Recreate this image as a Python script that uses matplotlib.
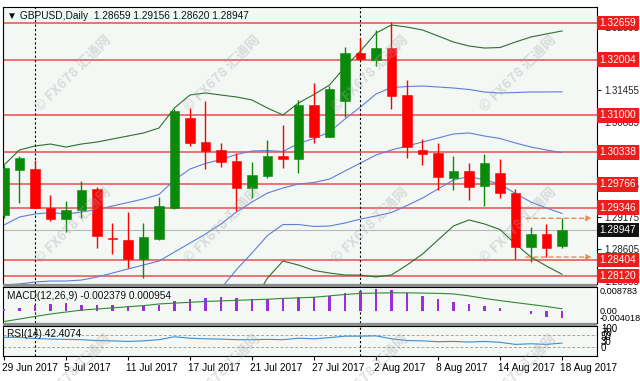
import matplotlib
matplotlib.use("Agg")
import matplotlib.pyplot as plt
import matplotlib.transforms as mtrans
from matplotlib.patches import Rectangle
import numpy as np

plt.rcParams['font.family'] = ['Liberation Sans', 'DejaVu Sans']

# daily GBPUSD candles, 29 Jun .. 18 Aug 2017
opens = [1.29214, 1.30022, 1.30040, 1.29340, 1.29142, 1.29304, 1.29681, 1.28800, 1.28765, 1.28425,
         1.28783, 1.29340, 1.30955, 1.30524, 1.30381, 1.30183, 1.29699, 1.29914, 1.30273, 1.30219,
         1.31188, 1.30614, 1.31260, 1.32121, 1.31995, 1.32210, 1.31367, 1.30381, 1.30327, 1.29878,
         1.30004, 1.29735, 1.29968, 1.29609, 1.28640, 1.28873, 1.28659]
highs = [1.30111, 1.30273, 1.30201, 1.29573, 1.29466, 1.29824, 1.29717, 1.29071, 1.29268, 1.29071,
         1.29537, 1.31116, 1.31134, 1.31260, 1.30506, 1.30327, 1.30165, 1.30560, 1.30829, 1.31278,
         1.31583, 1.31529, 1.32228, 1.32390, 1.32533, 1.32677, 1.31636, 1.30578, 1.30506, 1.30273,
         1.30147, 1.30309, 1.30219, 1.29681, 1.28999, 1.29053, 1.29156]
lows = [1.29160, 1.29430, 1.29340, 1.29107, 1.28909, 1.29160, 1.28622, 1.28515, 1.28264, 1.28084,
        1.28765, 1.29322, 1.30452, 1.30040, 1.30075, 1.29286, 1.29519, 1.29878, 1.30058, 1.29968,
        1.30506, 1.30614, 1.30973, 1.31995, 1.31888, 1.31116, 1.30237, 1.30111, 1.29663, 1.29663,
        1.29483, 1.29376, 1.29519, 1.28425, 1.28371, 1.28461, 1.28620]
closes = [1.30058, 1.30237, 1.29340, 1.29142, 1.29304, 1.29663, 1.28837, 1.28783, 1.28425, 1.28819,
          1.29376, 1.31080, 1.30506, 1.30363, 1.30165, 1.29699, 1.29932, 1.30273, 1.30219, 1.31188,
          1.30614, 1.31475, 1.32121, 1.32013, 1.32210, 1.31349, 1.30434, 1.30309, 1.29896, 1.30004,
          1.29717, 1.30147, 1.29609, 1.28640, 1.28873, 1.28622, 1.28947]

# bollinger middle line and one band step
bb_mid = [1.27959, 1.27977, 1.28013, 1.28030, 1.28030, 1.28048, 1.28102, 1.28174, 1.28246, 1.28318,
          1.28389, 1.28551, 1.28712, 1.28874, 1.29053, 1.29268, 1.29448, 1.29609, 1.29699, 1.29771,
          1.29798, 1.29860, 1.30004, 1.30147, 1.30291, 1.30381, 1.30452, 1.30524, 1.30596, 1.30668,
          1.30686, 1.30632, 1.30587, 1.30506, 1.30434, 1.30381, 1.30334]
bb_sd = [0.01076, 0.01202, 0.01220, 0.01229, 0.01202, 0.01220, 0.01211, 0.01202, 0.01193, 0.01184,
         0.01193, 0.01292, 0.01328, 0.01265, 0.01157, 0.01032, 0.00915, 0.00762, 0.00655, 0.00727,
         0.00789, 0.00843, 0.00933, 0.01005, 0.01094, 0.01121, 0.01067, 0.01005, 0.00915, 0.00825,
         0.00780, 0.00789, 0.00816, 0.00906, 0.00987, 0.01041, 0.01091]

macd_main = [0.0010, 0.0014, 0.0023, 0.0028, 0.0030, 0.0024, 0.0024, 0.0024, 0.0020, 0.0018,
             0.0024, 0.0036, 0.0044, 0.0048, 0.0051, 0.0048, 0.0044, 0.0044, 0.0044, 0.0051,
             0.0051, 0.0056, 0.0067, 0.0074, 0.0080, 0.0077, 0.0065, 0.0056, 0.0044, 0.0033,
             0.0026, 0.0020, 0.0011, 0.0001, -0.0009, -0.0020, -0.002379]
macd_signal = [-0.0036, -0.0027, -0.0018, -0.0009, -0.0002, 0.0005, 0.0009, 0.0013, 0.0017, 0.0021,
               0.0027, 0.0030, 0.0033, 0.0036, 0.0038, 0.0040, 0.0042, 0.0044, 0.0047, 0.0049,
               0.0051, 0.0056, 0.0061, 0.0065, 0.0066, 0.0067, 0.0067, 0.0066, 0.0065, 0.0063,
               0.0056, 0.0047, 0.0039, 0.0032, 0.0025, 0.0018, 0.000954]
rsi = [62, 62, 58, 56, 55, 54, 51, 50, 48, 50, 54, 64, 59, 57, 56, 54, 54, 55, 54, 59,
       57, 61, 66, 66, 67, 57, 51, 50, 47, 48, 46, 48, 45, 38, 40, 38, 42.4074]

date_labels = ["29 Jun 2017", "5 Jul 2017", "11 Jul 2017", "17 Jul 2017", "21 Jul 2017",
               "27 Jul 2017", "2 Aug 2017", "8 Aug 2017", "14 Aug 2017", "18 Aug 2017"]
levels = [1.32659, 1.32004, 1.31000, 1.30338, 1.29766, 1.29346, 1.28404, 1.28120]
price_ticks = [1.28035, 1.28605, 1.29175, 1.29745, 1.30315, 1.30885, 1.31455, 1.32025, 1.32595]
last_price = 1.28947
arrow_levels = [1.29156, 1.28460]
separators = [2, 23]

W, H = 640, 381
fig = plt.figure(figsize=(W / 100, H / 100), dpi=100)


def rect(x0, y0, x1, y1):
    return [x0 / W, 1 - y1 / H, (x1 - x0) / W, (y1 - y0) / H]


bg = '#f3f8f5'
ax = fig.add_axes(rect(3, 7, 597, 284), facecolor=bg)
axm = fig.add_axes(rect(3, 287, 597, 322.7), facecolor=bg, sharex=ax)
axr = fig.add_axes(rect(3, 325.5, 597, 356), facecolor=bg, sharex=ax)

x = np.arange(len(closes))
o, h, l, c = map(np.array, (opens, highs, lows, closes))
up = c >= o
cols = np.where(up, '#0a8a0a', '#ff0000')

ax.vlines(x, l, h, colors=cols, lw=1, zorder=3)
body = np.where(np.abs(c - o) < 0.00004, 0.00004, c - o)
ax.bar(x, body, bottom=o, width=0.64, color=cols, edgecolor=cols, lw=0.4, zorder=4)

mid = np.array(bb_mid)
sd = np.array(bb_sd)
ax.plot(x, mid + 2 * sd, color='#2f6f2f', lw=0.8, zorder=2)
ax.plot(x, mid - 2 * sd, color='#2f6f2f', lw=0.8, zorder=2)
for k in (-1, 0, 1):
    ax.plot(x, mid + k * sd, color='#5f7fd6', lw=0.8, zorder=2)

for lv in levels:
    ax.axhline(lv, color='#e86868', lw=1.3, zorder=1)
ax.axhline(last_price, color='#b8b8b8', lw=0.8, zorder=1)

for lv in arrow_levels:
    ax.annotate('', xy=(38.1, lv), xytext=(33.5, lv),
                arrowprops=dict(arrowstyle='-|>', ls=(0, (3, 2.5)), color='#f08a4b', lw=1,
                                mutation_scale=8), zorder=5, annotation_clip=False)

ax.set_xlim(-0.0645, 38.26)
ax.set_ylim(1.27977, 1.32946)

# price scale
ax.yaxis.tick_right()
ax.set_yticks(price_ticks)
ax.set_yticklabels([f"{t:.5f}" for t in price_ticks])
ax.tick_params(axis='y', labelsize=7, length=3, pad=2, colors='#222222', width=0.8)
ax.tick_params(axis='x', bottom=False, labelbottom=False)

tr = mtrans.blended_transform_factory(ax.transAxes, ax.transData)
for lv in levels:
    ax.text(1.0045, lv, f"{lv:.5f}", transform=tr, color='white', fontsize=7.3,
            va='center', ha='left', clip_on=False, zorder=10,
            bbox=dict(boxstyle='square,pad=0.22', fc='#ee1c1c', ec='none'))
ax.text(1.0045, last_price, f"{last_price:.5f}", transform=tr, color='white', fontsize=7.3,
        va='center', ha='left', clip_on=False, zorder=10,
        bbox=dict(boxstyle='square,pad=0.22', fc='#111111', ec='none'))

ax.text(0.006, 0.967, "\u25bc GBPUSD,Daily  1.28659 1.29156 1.28620 1.28947", transform=ax.transAxes,
        fontsize=7.3, va='center', ha='left', color='#111111')

# MACD
axm.bar(x, macd_main, width=0.18, color='#9b30d8', zorder=3)
axm.plot(x, macd_signal, color='#2f8a2f', lw=0.8, zorder=4)
axm.set_ylim(-0.004018, 0.008783)
axm.tick_params(left=False, bottom=False, labelleft=False, labelbottom=False)
axm.text(0.006, 0.76, "MACD(12,26,9) -0.002379 0.000954", transform=axm.transAxes,
         fontsize=7.3, va='center', ha='left', color='#111111')
trm = mtrans.blended_transform_factory(axm.transAxes, axm.transData)
axm.text(1.005, 0.008783, "0.008783", transform=trm, fontsize=6.6, va='top', clip_on=False)
axm.text(1.005, 0.0, "0.00", transform=trm, fontsize=6.6, va='center', clip_on=False)
axm.text(1.005, -0.004018, "-0.004018", transform=trm, fontsize=6.6, va='bottom', clip_on=False)

# RSI
axr.plot(x, rsi, color='#3a8fd0', lw=0.8, zorder=3)
for lv in (70, 30):
    axr.axhline(lv, color='#b0a0a0', lw=0.7, ls=(0, (3, 2)), zorder=1)
axr.set_ylim(-1.7, 102.4)
axr.tick_params(left=False, labelleft=False)
axr.text(0.006, 0.73, "RSI(14) 42.4074", transform=axr.transAxes,
         fontsize=7.3, va='center', ha='left', color='#111111')
for t, py in zip(["100", "70", "50", "30", "0"], [329, 333.5, 337.5, 342, 348]):
    fig.text(601 / W, 1 - py / H, t, fontsize=7, va='center', ha='left')

tick_pos = x[::4]
axr.set_xticks(tick_pos)
axr.set_xticklabels(date_labels, ha='left', fontsize=7.3)
axr.tick_params(axis='x', length=3, pad=2, width=0.8)
offset = mtrans.ScaledTranslation(-2 / 100, 0, fig.dpi_scale_trans)
for lab in axr.get_xticklabels():
    lab.set_transform(lab.get_transform() + offset)

for a in (ax, axm, axr):
    for s in a.spines.values():
        s.set_color('black')
        s.set_linewidth(0.8)
    for sp in separators:
        a.axvline(sp, color='black', lw=0.8, ls=(0, (2, 2)), zorder=2)

# gray separators between panels
for y0, y1 in ((284, 287), (322.7, 325.5)):
    fig.patches.append(Rectangle((3 / W, 1 - y1 / H), 594 / W, (y1 - y0) / H,
                                 transform=fig.transFigure, fc='#8c8c8c', ec='none', zorder=5))

# watermarks
for wy in (73, 225, 372):
    for wx in (73, 222, 370, 518):
        fig.text(wx / W, 1 - wy / H, "\u00a9 FX678 \u6c47\u901a\u7f51", rotation=45,
                 fontsize=10, fontweight='bold', color='#a8a8a8', alpha=0.35,
                 ha='center', va='center', zorder=20,
                 family=['Noto Sans CJK SC', 'DejaVu Sans'])

fig.savefig("out.png", dpi=100, facecolor='white')
